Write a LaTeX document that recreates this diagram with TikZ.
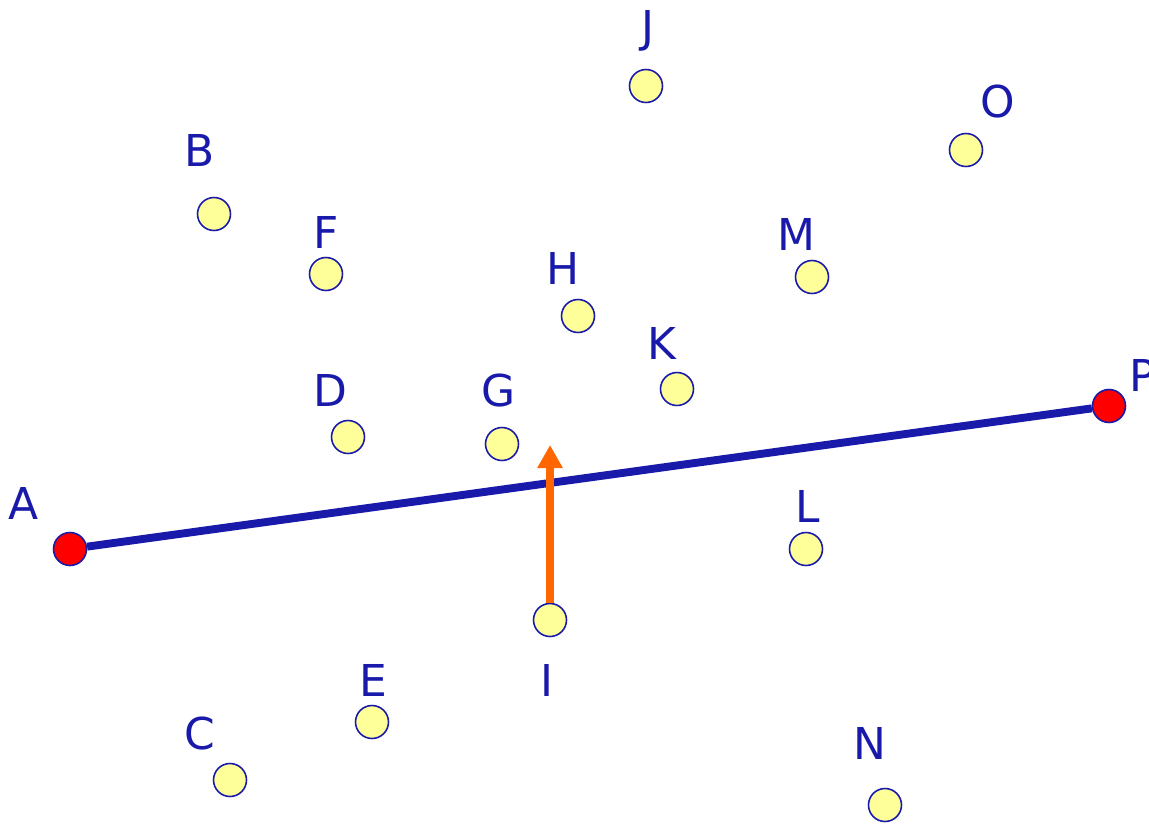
\documentclass[tikz,border=0pt]{standalone}
\usepackage{fontspec}
\setmainfont{DejaVu Sans}
\usepackage{tikz}
\usetikzlibrary{arrows.meta, positioning}
\definecolor{ptblue}{RGB}{26, 26, 170}
\definecolor{ptyellow}{RGB}{255, 255, 153}
\definecolor{ptred}{RGB}{255, 0, 0}
\definecolor{ptorange}{RGB}{255, 102, 0}
\tikzset{
  pt/.style={circle, draw=ptblue, line width=0.9pt, fill=ptyellow, inner sep=0pt, minimum size=0.66cm},
  endpt/.style={pt, fill=ptred},
  lbl/.style={text=ptblue, inner sep=0pt, font=\fontsize{25}{30}\selectfont}
}
\begin{document}
\begin{tikzpicture}[x=0.02cm, y=-0.02cm]
    \useasboundingbox (0,0) rectangle (1149,825);

    % --- Punkty ---
    \node[pt] (b) at (214,214) {};
    \node[pt] (f) at (326,274) {};
    \node[pt] (d) at (348,437) {};
    \node[pt] (g) at (502,444) {};
    \node[pt] (h) at (578,316) {};
    \node[pt] (j) at (646,86) {};
    \node[pt] (k) at (677,389) {};
    \node[pt] (m) at (812,277) {};
    \node[pt] (o) at (966,150) {};
    \node[pt] (l) at (806,549) {};
    \node[pt] (i) at (550,620) {};
    \node[pt] (e) at (372,722) {};
    \node[pt] (c) at (230,780) {};
    \node[pt] (n) at (885,805) {};

    % --- Odcinek A-P ---
    \node[endpt] (a) at (70,549) {};
    \node[endpt] (p) at (1109,406) {};
    \draw[ptblue, line width=4.5pt] (a) -- (p);

    % --- Strzalka od I ---
    \coordinate (tip) at (550,445);
    \draw[-{Triangle[length=0.46cm, width=0.48cm]}, ptorange, line width=4.5pt] (i.north) -- (tip);

    % --- Etykiety ---
    \node[lbl] (la) at (24,503) {A};
    \node[lbl] (lb) at (200,150) {B};
    \node[lbl] (lc) at (200,733) {C};
    \node[lbl] (ld) at (330,390) {D};
    \node[lbl] (le) at (373,680) {E};
    \node[lbl] (lf) at (326,232) {F};
    \node[lbl] (lg) at (499,391) {G};
    \node[lbl] (lh) at (563,268) {H};
    \node[lbl] (li) at (547,680) {I};
    \node[lbl] (lj) at (648,31) {J};
    \node[lbl] (lk) at (662,343) {K};
    \node[lbl] (ll) at (808,506) {L};
    \node[lbl] (lm) at (796,234) {M};
    \node[lbl] (ln) at (870,743) {N};
    \node[lbl] (lo) at (998,102) {O};
    \node[lbl] (lp) at (1143,375) {P};
\end{tikzpicture}
\end{document}
